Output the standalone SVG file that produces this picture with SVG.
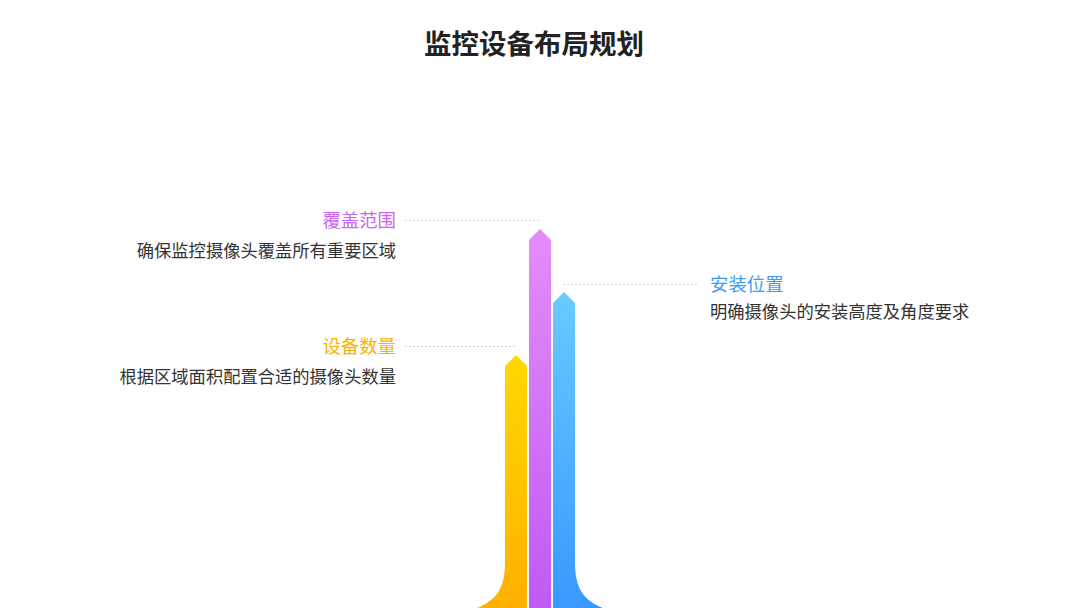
<svg xmlns="http://www.w3.org/2000/svg" width="1080" height="608" viewBox="0 0 1080 608">
<defs>
<linearGradient id="gy" x1="0" y1="0" x2="0" y2="1"><stop offset="0" stop-color="#FFD900"/><stop offset="1" stop-color="#FFB000"/></linearGradient>
<linearGradient id="gp" x1="0" y1="0" x2="0" y2="1"><stop offset="0" stop-color="#E38DF8"/><stop offset="1" stop-color="#C259F5"/></linearGradient>
<linearGradient id="gb" x1="0" y1="0" x2="0" y2="1"><stop offset="0" stop-color="#68CBFF"/><stop offset="1" stop-color="#3898FF"/></linearGradient>
<style>
text{font-family:"Noto Sans CJK SC","Noto Sans",sans-serif}
.title{font-size:27.5px;font-weight:bold;fill:#222}
.lab{font-size:18.4px}
.desc{font-size:17.3px;fill:#333}
.dot{stroke:#D6D6D6;stroke-width:1;stroke-dasharray:2 2;fill:none}
</style>
</defs>
<rect width="1080" height="608" fill="#fff"/>
<text class="title" x="534" y="53.5" text-anchor="middle">监控设备布局规划</text>
<g id="connectors">
<line class="dot" x1="405" y1="220.5" x2="540" y2="220.5"/>
<line class="dot" x1="563" y1="284.5" x2="697" y2="284.5"/>
<line class="dot" x1="405" y1="346.5" x2="515" y2="346.5"/>
</g>
<g id="bar-yellow"><path d="M477 608 C497 600 505 588 505 562 L505 366 L516 355 L527 366 L527 608 Z" fill="url(#gy)"/></g>
<g id="bar-purple"><path d="M529 608 L529 240 L540 229 L551 240 L551 608 Z" fill="url(#gp)"/></g>
<g id="bar-blue"><path d="M553 608 L553 303 L564 292 L575 303 L575 562 C575 588 583 600 603 608 Z" fill="url(#gb)"/></g>
<g id="node-coverage">
<text class="lab" x="396" y="227" text-anchor="end" fill="#C865F2">覆盖范围</text>
<text class="desc" x="396" y="257" text-anchor="end">确保监控摄像头覆盖所有重要区域</text>
</g>
<g id="node-install">
<text class="lab" x="710" y="291" fill="#3D9CF5">安装位置</text>
<text class="desc" x="710" y="318">明确摄像头的安装高度及角度要求</text>
</g>
<g id="node-count">
<text class="lab" x="396" y="353" text-anchor="end" fill="#F7B500">设备数量</text>
<text class="desc" x="396" y="383" text-anchor="end">根据区域面积配置合适的摄像头数量</text>
</g>
</svg>
